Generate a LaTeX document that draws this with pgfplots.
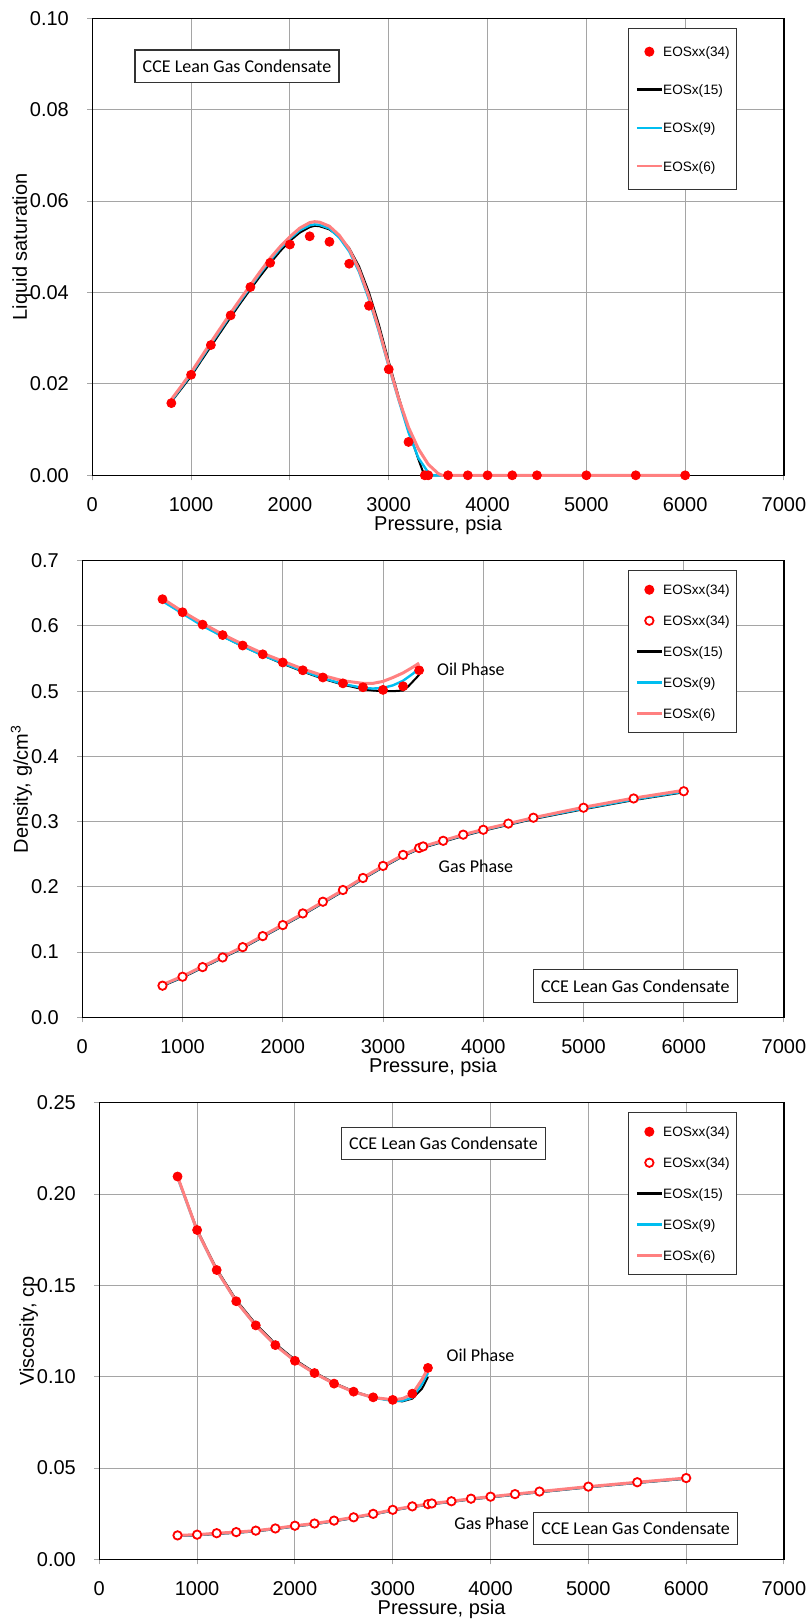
\documentclass[border=0pt]{standalone}
\usepackage{pgfplots}
\pgfplotsset{compat=1.18}
\usepackage{fontspec}
\setmainfont{Liberation Sans}
\newfontfamily\calibri{Carlito}
\definecolor{eosred}{RGB}{255,0,0}
\definecolor{eoscyan}{RGB}{0,190,240}
\definecolor{eospink}{RGB}{255,128,128}
\definecolor{gridgray}{RGB}{165,165,165}

\pgfplotsset{
  myaxis/.style={
    scale only axis,
    xmin=0, xmax=7000, xtick={0,1000,2000,3000,4000,5000,6000,7000},
    ymin=0,
    grid=major,
    major grid style={draw=gridgray, line width=0.5pt},
    axis line style={black, line width=0.6pt},
    tick align=outside,
    xtick pos=left, ytick pos=left,
    major tick length=2.5pt,
    every tick/.style={gridgray, line width=0.5pt},
    scaled ticks=false,
    clip=false,
    /pgf/number format/assume math mode=true,
    /pgf/number format/1000 sep={},
    tick label style={font=\fontsize{10}{12}\selectfont},
    label style={font=\fontsize{10}{12}\selectfont},
    xticklabel style={yshift=-5pt},
    yticklabel style={xshift=-5.7pt},
    xlabel style={at={(axis description cs:0.5,-0.1105)},anchor=center},
    legend cell align=left,
    legend image code/.code={\draw[mark repeat=2,mark phase=2,##1] plot coordinates {(0pt,0pt) (6.25pt,0pt) (12.5pt,0pt)};},
    legend style={draw=black!80, line width=0.5pt, fill=white,
      font=\fontsize{6.8}{8}\selectfont, inner xsep=3.5pt, anchor=north west,
      nodes={inner xsep=0pt, inner ysep=0pt, text height=0.75em, text depth=0.25em}},
  },
  blk/.style={black, line width=1pt, mark=none},
  cyn/.style={eoscyan, line width=1.2pt, mark=none},
  pnk/.style={eospink, line width=1.5pt, mark=none},
  fdot/.style={only marks, mark=*, mark size=2.25pt, color=eosred, mark options={draw=eosred, fill=eosred}},
  odot/.style={only marks, mark=*, mark size=2.1pt, color=eosred, mark options={draw=eosred, fill=white, line width=0.9pt}},
}

\begin{document}
\begin{tikzpicture}
\useasboundingbox (0pt,0pt) rectangle (404pt,-812pt);

%%%%%%%%%%%%%%%%%%%% Plot 1: Liquid saturation
\begin{axis}[myaxis,
  at={(46.15pt,-237.65pt)}, anchor=south west,
  width=345.85pt, height=228.5pt,
  ymax=0.1, ytick={0,0.02,0.04,0.06,0.08,0.1},
  yticklabel style={/pgf/number format/.cd, fixed, fixed zerofill, precision=2},
  xlabel={Pressure, psia}, ylabel={Liquid saturation},
  ylabel style={at={(axis description cs:-0.1022,0.5)},anchor=center},
  legend style={at={(0.7745,0.9788)}, row sep=9.05pt, inner ysep=6.6pt},
]
\addlegendimage{fdot}\addlegendentry{EOSxx(34)}
\addlegendimage{black, line width=1.35pt, mark=none}\addlegendentry{EOSx(15)}
\addlegendimage{eoscyan, line width=1.35pt, mark=none}\addlegendentry{EOSx(9)}
\addlegendimage{eospink, line width=1.35pt, mark=none}\addlegendentry{EOSx(6)}

\addplot[blk, forget plot] coordinates {
(800,0.0161) (900,0.0189) (1000,0.0217) (1100,0.0250) (1200,0.0282) (1300,0.0314)
(1400,0.0346) (1500,0.0377) (1600,0.0407) (1700,0.0436) (1800,0.0464) (1900,0.0490)
(2000,0.0513) (2100,0.0531) (2200,0.0543) (2250,0.0546) (2300,0.0545) (2400,0.0538)
(2500,0.0522) (2600,0.0497) (2700,0.0457) (2800,0.0400) (2900,0.0330) (3000,0.0249)
(3100,0.0172) (3200,0.0099) (3300,0.0035) (3360,0.0) (6000,0.0)};
\addplot[cyn, forget plot] coordinates {
(800,0.0163) (900,0.0192) (1000,0.0221) (1100,0.0254) (1200,0.0287) (1300,0.0319)
(1400,0.0351) (1500,0.0382) (1600,0.0412) (1700,0.0442) (1800,0.0470) (1900,0.0496)
(2000,0.0518) (2100,0.0536) (2200,0.0547) (2250,0.0549) (2300,0.0548) (2400,0.0540)
(2500,0.0520) (2600,0.0490) (2700,0.0445) (2800,0.0385) (2900,0.0315) (3000,0.0238)
(3100,0.0165) (3200,0.0094) (3300,0.0038) (3400,0.0006) (3440,0.0) (6000,0.0)};
\addplot[pnk, forget plot] coordinates {
(800,0.0166) (900,0.0195) (1000,0.0225) (1100,0.0258) (1200,0.0291) (1300,0.0323)
(1400,0.0355) (1500,0.0386) (1600,0.0416) (1700,0.0446) (1800,0.0475) (1900,0.0500)
(2000,0.0522) (2100,0.0541) (2200,0.0553) (2250,0.0555) (2300,0.0554) (2400,0.0545)
(2500,0.0525) (2600,0.0495) (2700,0.0450) (2800,0.0391) (2900,0.0320) (3000,0.0242)
(3100,0.0168) (3200,0.0105) (3300,0.0058) (3400,0.0024) (3500,0.0004) (3540,0.0) (6000,0.0)};
\addplot[fdot, forget plot] coordinates {
(800,0.0158) (1000,0.0220) (1200,0.0285) (1400,0.0350) (1600,0.0412) (1800,0.0465)
(2000,0.0505) (2200,0.0523) (2400,0.0511) (2600,0.0463) (2800,0.0371) (3000,0.0232)
(3200,0.0073) (3365,0) (3400,0) (3600,0) (3800,0) (4000,0) (4250,0) (4500,0)
(5000,0) (5500,0) (6000,0)};
\end{axis}

%%%%%%%%%%%%%%%%%%%% Plot 2: Density
\begin{axis}[myaxis,
  at={(41.15pt,-508.65pt)}, anchor=south west,
  width=350.85pt, height=228.3pt,
  ymax=0.7, ytick={0,0.1,0.2,0.3,0.4,0.5,0.6,0.7},
  yticklabel style={/pgf/number format/.cd, fixed, fixed zerofill, precision=1},
  xlabel={Pressure, psia}, ylabel={Density, g/cm\textsuperscript{3}},
  ylabel style={at={(axis description cs:-0.0868,0.5)},anchor=center},
  legend style={at={(0.7777,0.9796)}, row sep=5.5pt, inner ysep=4.6pt},
]
\addlegendimage{fdot}\addlegendentry{EOSxx(34)}
\addlegendimage{odot}\addlegendentry{EOSxx(34)}
\addlegendimage{black, line width=1.35pt, mark=none}\addlegendentry{EOSx(15)}
\addlegendimage{eoscyan, line width=1.35pt, mark=none}\addlegendentry{EOSx(9)}
\addlegendimage{eospink, line width=1.35pt, mark=none}\addlegendentry{EOSx(6)}

% oil phase
\addplot[blk, forget plot] coordinates {
(800,0.640) (1000,0.620) (1200,0.601) (1400,0.584) (1600,0.569) (1800,0.555)
(2000,0.542) (2200,0.530) (2400,0.519) (2600,0.510) (2800,0.503) (2900,0.501)
(3000,0.500) (3100,0.500) (3200,0.501) (3250,0.507) (3360,0.525)};
\addplot[cyn, forget plot] coordinates {
(800,0.638) (1000,0.619) (1200,0.600) (1400,0.584) (1600,0.569) (1800,0.555)
(2000,0.543) (2200,0.531) (2400,0.520) (2600,0.511) (2800,0.505) (2900,0.504)
(3000,0.505) (3100,0.509) (3200,0.516) (3300,0.527) (3360,0.535)};
\addplot[pnk, forget plot] coordinates {
(800,0.642) (1000,0.622) (1200,0.604) (1400,0.587) (1600,0.572) (1800,0.558)
(2000,0.546) (2200,0.534) (2400,0.524) (2600,0.516) (2800,0.512) (2900,0.512)
(3000,0.515) (3100,0.521) (3200,0.528) (3300,0.537) (3360,0.543)};
% gas phase
\addplot[blk, forget plot] coordinates {
(800,0.048) (1000,0.061) (1200,0.076) (1400,0.091) (1600,0.106) (1800,0.123)
(2000,0.140) (2200,0.157) (2400,0.175) (2600,0.193) (2800,0.212) (3000,0.230)
(3200,0.247) (3360,0.258) (3400,0.260) (3600,0.269) (3800,0.278) (4000,0.286)
(4250,0.295) (4500,0.304) (5000,0.319) (5500,0.333) (6000,0.345)};
\addplot[cyn, forget plot] coordinates {
(800,0.049) (1000,0.062) (1200,0.077) (1400,0.092) (1600,0.107) (1800,0.124)
(2000,0.141) (2200,0.158) (2400,0.176) (2600,0.194) (2800,0.213) (3000,0.231)
(3200,0.248) (3360,0.259) (3400,0.261) (3600,0.270) (3800,0.279) (4000,0.287)
(4250,0.296) (4500,0.305) (5000,0.320) (5500,0.334) (6000,0.346)};
\addplot[pnk, forget plot] coordinates {
(800,0.050) (1000,0.063) (1200,0.078) (1400,0.093) (1600,0.108) (1800,0.125)
(2000,0.142) (2200,0.159) (2400,0.177) (2600,0.195) (2800,0.214) (3000,0.232)
(3200,0.249) (3360,0.260) (3400,0.262) (3600,0.271) (3800,0.280) (4000,0.288)
(4250,0.297) (4500,0.306) (5000,0.322) (5500,0.336) (6000,0.348)};
\addplot[fdot, forget plot] coordinates {
(800,0.641) (1000,0.621) (1200,0.602) (1400,0.586) (1600,0.570) (1800,0.5565)
(2000,0.544) (2200,0.532) (2400,0.521) (2600,0.512) (2800,0.506) (3000,0.502)
(3200,0.5075) (3360,0.532)};
\addplot[odot, forget plot] coordinates {
(800,0.0485) (1000,0.0622) (1200,0.077) (1400,0.0918) (1600,0.1076) (1800,0.1245)
(2000,0.1414) (2200,0.1593) (2400,0.1772) (2600,0.1952) (2800,0.2136) (3000,0.2321)
(3200,0.249) (3360,0.2595) (3400,0.262) (3600,0.2706) (3800,0.280) (4000,0.2875)
(4250,0.297) (4500,0.306) (5000,0.3213) (5500,0.3355) (6000,0.3466)};
\end{axis}

%%%%%%%%%%%%%%%%%%%% Plot 3: Viscosity
\begin{axis}[myaxis,
  at={(49.65pt,-779.65pt)}, anchor=south west,
  width=342.35pt, height=228.3pt,
  ymax=0.25, ytick={0,0.05,0.10,0.15,0.20,0.25},
  yticklabel style={/pgf/number format/.cd, fixed, fixed zerofill, precision=2},
  xlabel={Pressure, psia}, ylabel={Viscosity, cp},
  ylabel style={at={(axis description cs:-0.1031,0.5)},anchor=center},
  legend style={at={(0.7722,0.9796)}, row sep=5.5pt, inner ysep=4.6pt},
]
\addlegendimage{fdot}\addlegendentry{EOSxx(34)}
\addlegendimage{odot}\addlegendentry{EOSxx(34)}
\addlegendimage{black, line width=1.35pt, mark=none}\addlegendentry{EOSx(15)}
\addlegendimage{eoscyan, line width=1.35pt, mark=none}\addlegendentry{EOSx(9)}
\addlegendimage{eospink, line width=1.35pt, mark=none}\addlegendentry{EOSx(6)}

% oil phase
\addplot[blk, forget plot] coordinates {
(800,0.2096) (1000,0.1805) (1200,0.1590) (1400,0.1420) (1600,0.1288) (1800,0.1180)
(2000,0.1093) (2200,0.1024) (2400,0.0966) (2600,0.0920) (2800,0.0887) (3000,0.0868)
(3100,0.0865) (3200,0.0880) (3300,0.0935) (3360,0.0998)};
\addplot[cyn, forget plot] coordinates {
(800,0.2090) (1000,0.1798) (1200,0.1582) (1400,0.1412) (1600,0.1280) (1800,0.1173)
(2000,0.1087) (2200,0.1019) (2400,0.0962) (2600,0.0917) (2800,0.0885) (3000,0.0868)
(3100,0.0868) (3200,0.0885) (3300,0.0960) (3360,0.1020)};
\addplot[pnk, forget plot] coordinates {
(800,0.2096) (1000,0.1800) (1200,0.1583) (1400,0.1412) (1600,0.1280) (1800,0.1172)
(2000,0.1086) (2200,0.1019) (2400,0.0962) (2600,0.0917) (2800,0.0886) (3000,0.0874)
(3100,0.0880) (3200,0.0905) (3300,0.0985) (3360,0.1045)};
% gas phase
\addplot[blk, forget plot] coordinates {
(800,0.0127) (1000,0.0131) (1200,0.0139) (1400,0.0145) (1600,0.0153) (1800,0.0165)
(2000,0.0180) (2200,0.0192) (2400,0.0208) (2600,0.0226) (2800,0.0245) (3000,0.0267)
(3200,0.0286) (3360,0.0298) (3400,0.0302) (3600,0.0314) (3800,0.0328) (4000,0.0339)
(4250,0.0353) (4500,0.0367) (5000,0.0394) (5500,0.0418) (6000,0.0441)};
\addplot[cyn, forget plot] coordinates {
(800,0.0129) (1000,0.0133) (1200,0.0141) (1400,0.0147) (1600,0.0155) (1800,0.0167)
(2000,0.0182) (2200,0.0194) (2400,0.0210) (2600,0.0228) (2800,0.0247) (3000,0.0269)
(3200,0.0288) (3360,0.0300) (3400,0.0304) (3600,0.0316) (3800,0.0330) (4000,0.0341)
(4250,0.0355) (4500,0.0369) (5000,0.0396) (5500,0.0420) (6000,0.0443)};
\addplot[pnk, forget plot] coordinates {
(800,0.0131) (1000,0.0135) (1200,0.0143) (1400,0.0149) (1600,0.0157) (1800,0.0169)
(2000,0.0184) (2200,0.0196) (2400,0.0212) (2600,0.0230) (2800,0.0249) (3000,0.0271)
(3200,0.0290) (3360,0.0302) (3400,0.0306) (3600,0.0318) (3800,0.0332) (4000,0.0343)
(4250,0.0357) (4500,0.0371) (5000,0.0398) (5500,0.0422) (6000,0.0445)};
\addplot[fdot, forget plot] coordinates {
(800,0.2096) (1000,0.1803) (1200,0.1584) (1400,0.1413) (1600,0.1281) (1800,0.1173)
(2000,0.1087) (2200,0.1020) (2400,0.0962) (2600,0.0918) (2800,0.0887) (3000,0.0873)
(3200,0.0907) (3360,0.1048)};
\addplot[odot, forget plot] coordinates {
(800,0.0131) (1000,0.0135) (1200,0.0143) (1400,0.0149) (1600,0.0157) (1800,0.0169)
(2000,0.0184) (2200,0.0196) (2400,0.0212) (2600,0.0230) (2800,0.0249) (3000,0.0271)
(3200,0.0290) (3360,0.0302) (3400,0.0306) (3600,0.0318) (3800,0.0332) (4000,0.0343)
(4250,0.0357) (4500,0.0371) (5000,0.0398) (5500,0.0422) (6000,0.0445)};
\end{axis}

%%%%%%%%%%%%%%%%%%%% annotations (pixel frame)
\begin{scope}[x=0.5pt, y=-0.5pt]
\tikzset{cbox/.style={draw=black!80, line width=0.6pt, fill=white, inner sep=0pt,
    minimum width=102pt, minimum height=16.3pt, font=\calibri\fontsize{9}{11}\selectfont},
  ctext/.style={inner sep=0pt, anchor=west, font=\calibri\fontsize{9}{11}\selectfont}}
\node[cbox] at (237,66.3) {CCE Lean Gas Condensate};
\node[cbox] at (635.3,986) {CCE Lean Gas Condensate};
\node[ctext] at (436.7,669) {Oil Phase};
\node[ctext] at (438.3,866.7) {Gas Phase};
\node[cbox] at (443.5,1143.5) {CCE Lean Gas Condensate};
\node[cbox] at (635.7,1528.5) {CCE Lean Gas Condensate};
\node[ctext] at (446.3,1355) {Oil Phase};
\node[ctext] at (454,1523.6) {Gas Phase};
\end{scope}
\end{tikzpicture}
\end{document}
